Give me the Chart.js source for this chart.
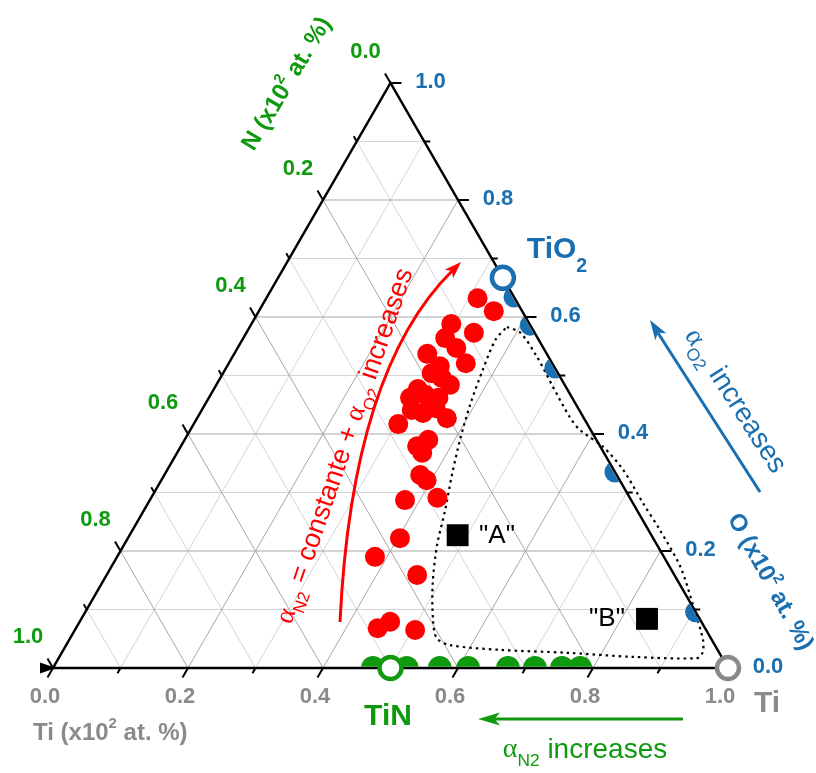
<!DOCTYPE html>
<html><head><meta charset="utf-8">
<script src="https://cdn.jsdelivr.net/npm/chart.js@4"></script>
<style>html,body{margin:0;padding:0;background:#fff;}canvas{display:block;}</style>
</head><body>
<canvas id="c" width="816" height="773"></canvas>
<script>
// ---- data (ternary compositions, fractions) ----
const tickLabels = ['0.0','0.2','0.4','0.6','0.8','1.0'];
const tickValues = [0, 0.2, 0.4, 0.6, 0.8, 1.0];
const redTi = [0.313,0.348,0.296,0.337,0.299,0.324,0.286,0.351,0.315,0.309,0.346,0.302,0.298,0.340,0.330,0.370,0.303,0.361,0.350,0.363,0.379,0.393,0.378,0.424,0.403,0.382,0.460,0.460,0.447,0.504,0.328,0.318,0.345,0.311];
const redO  = [0.632,0.610,0.588,0.573,0.564,0.547,0.537,0.521,0.516,0.504,0.484,0.477,0.462,0.462,0.436,0.427,0.417,0.390,0.379,0.368,0.330,0.321,0.287,0.291,0.222,0.190,0.159,0.079,0.068,0.065,0.496,0.467,0.444,0.441];
const greenTi = [0.474,0.524,0.573,0.615,0.674,0.714,0.754,0.781];
const greenO  = [0,0,0,0,0,0,0,0];
const blueO  = [0.634,0.586,0.513,0.335,0.096];
const blueTi = [0.366,0.414,0.487,0.665,0.904];
const squareLabels = ['"A"','"B"'];
const squareTi = [0.486, 0.838];
const squareO  = [0.227, 0.084];
const compoundNames = ['TiN','TiO2','Ti'];
const compoundTi = [0.5, 0.333, 1.0];
const compoundO  = [0.0, 0.667, 0.0];
const contourTi = [0.381,0.406,0.451,0.501,0.551,0.577,0.626,0.675,0.733,0.781,0.843,0.894,0.939,0.949,0.946,0.850,0.749,0.647,0.569,0.543,0.522,0.490,0.464,0.446,0.426,0.408,0.393,0.382,0.375,0.381];
const contourO  = [0.583,0.573,0.532,0.480,0.429,0.407,0.378,0.339,0.282,0.236,0.173,0.108,0.048,0.027,0.017,0.019,0.026,0.031,0.039,0.051,0.082,0.145,0.210,0.270,0.330,0.390,0.450,0.509,0.561,0.583];

const SQ3 = Math.sqrt(3)/2;
const toXY = (ti, o) => ({x: ti + o/2, y: o*SQ3});
const pts = (tis, os) => tis.map((t,i) => toXY(t, os[i]));

const GREEN = '#0f990f', BLUE = '#1a6fb0', GRAY = '#8a8a8a', RED = '#ff0000';
const SANS = '"Liberation Sans", Arial, sans-serif';
const SERIF = '"Liberation Serif", "Times New Roman", serif';

function rich(ctx, x, y, rot, parts, size, weight, color, align) {
  ctx.save();
  ctx.translate(x, y); ctx.rotate(rot);
  ctx.fillStyle = color; ctx.textBaseline = 'middle'; ctx.textAlign = 'left';
  const fonts = parts.map(p => {
    const s = (p.sup || p.sub) ? size * (p.scale || 0.62) : size;
    return (p.w || weight) + ' ' + s + 'px ' + (p.serif ? SERIF : SANS);
  });
  let total = 0;
  const ws = parts.map((p,i) => { ctx.font = fonts[i]; const w = ctx.measureText(p.t).width; total += w; return w; });
  let cx = align === 'left' ? 0 : (align === 'right' ? -total : -total/2);
  parts.forEach((p,i) => {
    ctx.font = fonts[i];
    const dy = p.sup ? -size*0.36 : (p.sub ? size*(p.dy || 0.38) : 0);
    ctx.fillText(p.t, cx, dy);
    cx += ws[i];
  });
  ctx.restore();
}

function arrowHead(ctx, tx, ty, dx, dy, len, hw, color) {
  const n = Math.hypot(dx, dy); dx /= n; dy /= n;
  ctx.save(); ctx.fillStyle = color; ctx.beginPath();
  ctx.moveTo(tx, ty);
  ctx.lineTo(tx - dx*len - dy*hw, ty - dy*len + dx*hw);
  ctx.lineTo(tx - dx*len*0.75, ty - dy*len*0.75);
  ctx.lineTo(tx - dx*len + dy*hw, ty - dy*len - dx*hw);
  ctx.closePath(); ctx.fill(); ctx.restore();
}

function triPath(chart, inset) {
  const xs = chart.scales.x, ys = chart.scales.y;
  const P = (ti,o) => [xs.getPixelForValue(ti+o/2), ys.getPixelForValue(o*SQ3)];
  const v = [P(0,0), P(1,0), P(0,1)];
  const cx = (v[0][0]+v[1][0]+v[2][0])/3, cy = (v[0][1]+v[1][1]+v[2][1])/3;
  const ctx = chart.ctx;
  ctx.beginPath();
  v.forEach((p,i) => {
    const dx = cx - p[0], dy = cy - p[1], d = Math.hypot(dx,dy);
    const q = [p[0] + dx/d*2*inset, p[1] + dy/d*2*inset];
    if (i === 0) ctx.moveTo(q[0], q[1]); else ctx.lineTo(q[0], q[1]);
  });
  ctx.closePath();
}

const ternaryPlugin = {
  id: 'ternary',
  beforeDatasetsDraw(chart) {
    const ctx = chart.ctx, xs = chart.scales.x, ys = chart.scales.y;
    const P = (ti,o) => [xs.getPixelForValue(ti+o/2), ys.getPixelForValue(o*SQ3)];
    const line = (a, b) => { ctx.beginPath(); ctx.moveTo(a[0], a[1]); ctx.lineTo(b[0], b[1]); ctx.stroke(); };
    ctx.save();
    ctx.lineWidth = 1;
    [1, 0].forEach(pass => {
      for (let k = 1; k <= 9; k++) {
        if (k % 2 !== pass) continue;
        const t = k/10;
        ctx.strokeStyle = pass ? '#d4d4d4' : '#a6a6a6';
        line(P(0,t), P(1-t,t));       // constant O
        line(P(t,0), P(t,1-t));       // constant Ti
        line(P(1-t,0), P(0,1-t));     // constant N
      }
    });
    // edges
    ctx.strokeStyle = '#000'; ctx.lineWidth = 2.5; ctx.lineJoin = 'miter';
    ctx.beginPath();
    const a = P(0,0), b = P(1,0), c = P(0,1);
    ctx.moveTo(a[0],a[1]); ctx.lineTo(b[0],b[1]); ctx.lineTo(c[0],c[1]); ctx.closePath(); ctx.stroke();
    // ticks
    ctx.lineWidth = 2;
    for (let k = 0; k <= 10; k++) {
      const t = k/10, L = (k % 2) ? 6 : 11;
      let p = P(t, 0); line(p, [p[0] - 0.5*L, p[1] + SQ3*L]);           // Ti axis
      p = P(0, 1-t); line(p, [p[0] - 0.5*L, p[1] - SQ3*L]);             // N axis
      p = P(1-t, t); line(p, [p[0] + L, p[1]]);                          // O axis
    }
    // arrowhead at bottom-left
    ctx.fillStyle = '#000'; ctx.beginPath();
    ctx.moveTo(a[0]+3, a[1]); ctx.lineTo(a[0]-13, a[1]-5.5); ctx.lineTo(a[0]-13, a[1]+5.5); ctx.closePath(); ctx.fill();
    ctx.restore();
  },
  beforeDatasetDraw(chart, args) {
    const ds = chart.data.datasets[args.index];
    if (ds.triClip) { chart.ctx.save(); triPath(chart, 1.3); chart.ctx.clip(); }
  },
  afterDatasetDraw(chart, args) {
    const ds = chart.data.datasets[args.index];
    if (ds.triClip) chart.ctx.restore();
  },
  afterDraw(chart) {
    const ctx = chart.ctx, xs = chart.scales.x, ys = chart.scales.y;
    const P = (ti,o) => [xs.getPixelForValue(ti+o/2), ys.getPixelForValue(o*SQ3)];
    const D = Math.PI/180;
    // tick labels
    tickValues.forEach((v, i) => {
      let p = P(v, 0);
      rich(ctx, p[0]-8, p[1]+29, 0, [{t: tickLabels[i]}], 22, 'bold', GRAY, 'center');
      p = P(0, 1-v);
      rich(ctx, p[0]-25, p[1]-31, 0, [{t: tickLabels[i]}], 22, 'bold', GREEN, 'center');
      p = P(1-v, v);
      rich(ctx, p[0]+40, p[1]-1, 0, [{t: tickLabels[i]}], 22, 'bold', BLUE, 'center');
    });
    // axis titles
    rich(ctx, 33, 733, 0, [{t:'Ti (x10'},{t:'2',sup:true},{t:' at. %)'}], 24, 'bold', GRAY, 'left');
    rich(ctx, 287, 84, -59*D, [{t:'N (x10'},{t:'2',sup:true},{t:' at. %)'}], 24, 'bold', GREEN, 'center');
    rich(ctx, 770, 582, 61*D, [{t:'O (x10'},{t:'2',sup:true},{t:' at. %)'}], 24, 'bold', BLUE, 'center');
    // compound labels
    rich(ctx, 388, 717, 0, [{t:'TiN'}], 30, 'bold', GREEN, 'center');
    rich(ctx, 767, 704, 0, [{t:'Ti'}], 30, 'bold', GRAY, 'center');
    rich(ctx, 557, 250, 0, [{t:'TiO'},{t:'2',sub:true,dy:0.55,scale:0.65}], 30, 'bold', BLUE, 'center');
    // square labels
    rich(ctx, 497, 536, 0, [{t: squareLabels[0]}], 26, 'normal', '#000', 'center');
    rich(ctx, 607, 619, 0, [{t: squareLabels[1]}], 26, 'normal', '#000', 'center');
    // green arrow
    ctx.save(); ctx.strokeStyle = GREEN; ctx.lineWidth = 3;
    ctx.beginPath(); ctx.moveTo(683, 719); ctx.lineTo(492, 719); ctx.stroke(); ctx.restore();
    arrowHead(ctx, 478, 719, -1, 0, 22, 6.5, GREEN);
    rich(ctx, 585, 750, 0, [{t:'α',serif:true,w:'normal'},{t:'N2',sub:true,dy:0.4},{t:' increases'}], 28, 'normal', GREEN, 'center');
    // blue arrow
    ctx.save(); ctx.strokeStyle = BLUE; ctx.lineWidth = 3;
    ctx.beginPath(); ctx.moveTo(760, 492); ctx.lineTo(658, 333); ctx.stroke(); ctx.restore();
    arrowHead(ctx, 650, 320, -110, -172, 20, 6.5, BLUE);
    rich(ctx, 735, 401, 57.4*D, [{t:'α',serif:true},{t:'O2',sub:true,dy:0.4},{t:' increases'}], 28, 'normal', BLUE, 'center');
    // red curved arrow
    ctx.save(); ctx.strokeStyle = RED; ctx.lineWidth = 3;
    ctx.beginPath(); ctx.moveTo(340, 622); ctx.quadraticCurveTo(352, 370, 452, 271); ctx.stroke(); ctx.restore();
    arrowHead(ctx, 461, 262, 108, -107, 17, 6, RED);
    rich(ctx, 345, 446, -71*D, [{t:'α',serif:true},{t:'N2',sub:true,dy:0.4},{t:' = constante + '},{t:'α',serif:true},{t:'O2',sub:true,dy:0.4},{t:' increases'}], 27, 'normal', RED, 'center');
  }
};

new Chart(document.getElementById('c'), {
  type: 'scatter',
  data: {
    datasets: [
      { label: 'TiN/TiO2/Ti', data: pts(compoundTi, compoundO), pointRadius: 11, pointBorderWidth: 4.5,
        pointBackgroundColor: '#fff', pointBorderColor: [GREEN, BLUE, GRAY], clip: false, order: 0 },
      { label: 'squares', data: pts(squareTi, squareO), pointStyle: 'rect', pointRadius: 15.5, pointBorderWidth: 0,
        pointBackgroundColor: '#000', pointBorderColor: '#000', order: 1 },
      { label: 'blue', data: pts(blueTi, blueO), pointRadius: 10.5, pointBorderWidth: 0,
        pointBackgroundColor: BLUE, pointBorderColor: BLUE, clip: false, triClip: true, order: 2 },
      { label: 'green', data: pts(greenTi, greenO), pointRadius: 12, pointBorderWidth: 0,
        pointBackgroundColor: GREEN, pointBorderColor: GREEN, clip: false, triClip: true, order: 3 },
      { label: 'red', data: pts(redTi, redO), pointRadius: 10, pointBorderWidth: 0,
        pointBackgroundColor: RED, pointBorderColor: RED, order: 4 },
      { label: 'contour', type: 'line', data: pts(contourTi, contourO), showLine: true, fill: false,
        borderColor: '#000', borderWidth: 2.2, borderDash: [2.5, 4], tension: 0.3, pointRadius: 0, order: 5, clip: false }
    ]
  },
  options: {
    responsive: false, animation: false, events: [],
    layout: { padding: { left: 53, right: 88, top: 83, bottom: 105 } },
    plugins: { legend: { display: false }, tooltip: { enabled: false } },
    scales: {
      x: { type: 'linear', min: 0, max: 1, display: false },
      y: { type: 'linear', min: 0, max: SQ3, display: false }
    }
  },
  plugins: [ternaryPlugin]
});
</script>
</body></html>
